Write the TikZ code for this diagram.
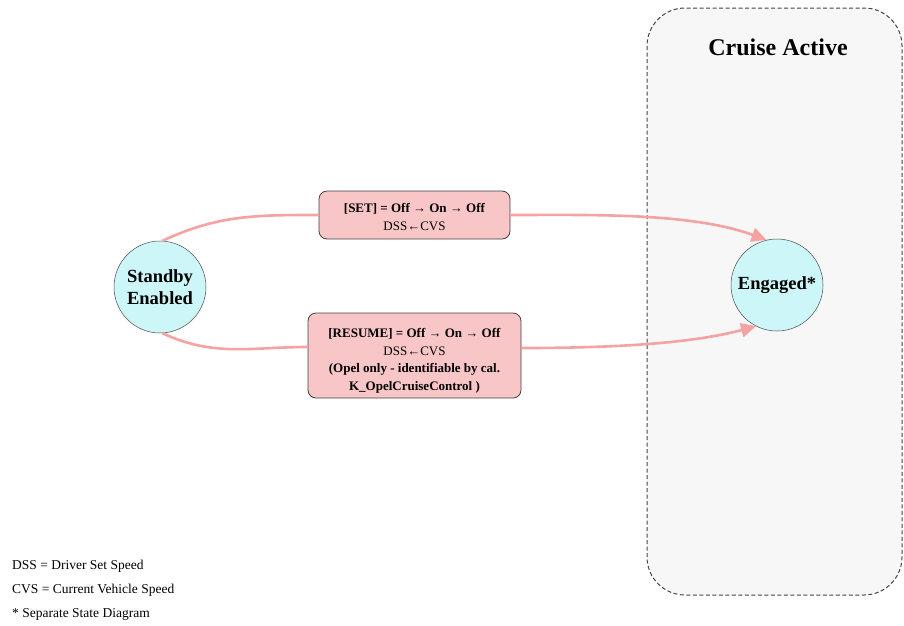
\documentclass[tikz,border=0pt]{standalone}
\usepackage{fontspec}
\setmainfont{Liberation Serif}
\usetikzlibrary{arrows.meta}
\definecolor{regfill}{HTML}{F7F7F7}
\definecolor{regline}{HTML}{444444}
\definecolor{statefill}{HTML}{CCF6F8}
\definecolor{boxfill}{HTML}{F8C6C6}
\definecolor{trans}{HTML}{F4A2A2}
\tikzset{
  region/.style={draw=regline, fill=regfill, dash pattern=on 4pt off 2.5pt, line width=1pt, rounded corners=38pt},
  statenode/.style={circle, draw=black!70, fill=statefill, line width=0.5pt, minimum size=92pt, inner sep=0pt, align=center, font=\fontsize{18.5}{22}\selectfont\bfseries},
  guardbox/.style={draw=black!75, fill=boxfill, rounded corners=8pt, line width=0.8pt, align=center, font=\fontsize{13}{17.5}\selectfont, inner sep=0pt},
  transline/.style={draw=trans, line width=2.6pt},
  transarrow/.style={transline, -{Triangle[length=15pt,width=14pt]}},
  legend/.style={anchor=west, font=\fontsize{13.5}{15}\selectfont, inner sep=0pt}
}
\begin{document}
\begin{tikzpicture}[x=1pt,y=-1pt]
\useasboundingbox (0,0) rectangle (904,625);
\draw[region] (647,8) rectangle (902,595);
\node[font=\fontsize{24}{28}\selectfont\bfseries] (title) at (778,47) {Cruise Active};
\node[statenode] (standby) at (160,287) {Standby\\Enabled};
\node[statenode] (engaged) at (777,285) {Engaged*};
\node[guardbox, minimum width=191pt, minimum height=48pt] (set) at (414.5,215) {\rule{0pt}{13pt}\textbf{[SET] = Off → On → Off}\\DSS←CVS};
\node[guardbox, minimum width=213pt, minimum height=85pt] (resume) at (414.5,355.5) {\rule{0pt}{20pt}\textbf{[RESUME] = Off → On → Off}\\DSS←CVS\\\textbf{(Opel only - identifiable by cal.}\\\textbf{K\_OpelCruiseControl )}};
\draw[transline] (standby.87) to[out=25,in=180] (set.west);
\draw[transarrow] (set.east) to[out=0,in=160,looseness=0.8] (engaged.103);
\draw[transline] (standby.273) to[out=-25,in=180] (resume.west |- 0,347);
\draw[transarrow] (resume.east |- 0,348) to[out=0,in=195,looseness=0.8] (engaged.243);
\node[legend] (l1) at (12,566) {DSS = Driver Set Speed};
\node[legend] (l2) at (12,590) {CVS = Current Vehicle Speed};
\node[legend] (l3) at (12,614) {* Separate State Diagram};
\end{tikzpicture}
\end{document}
